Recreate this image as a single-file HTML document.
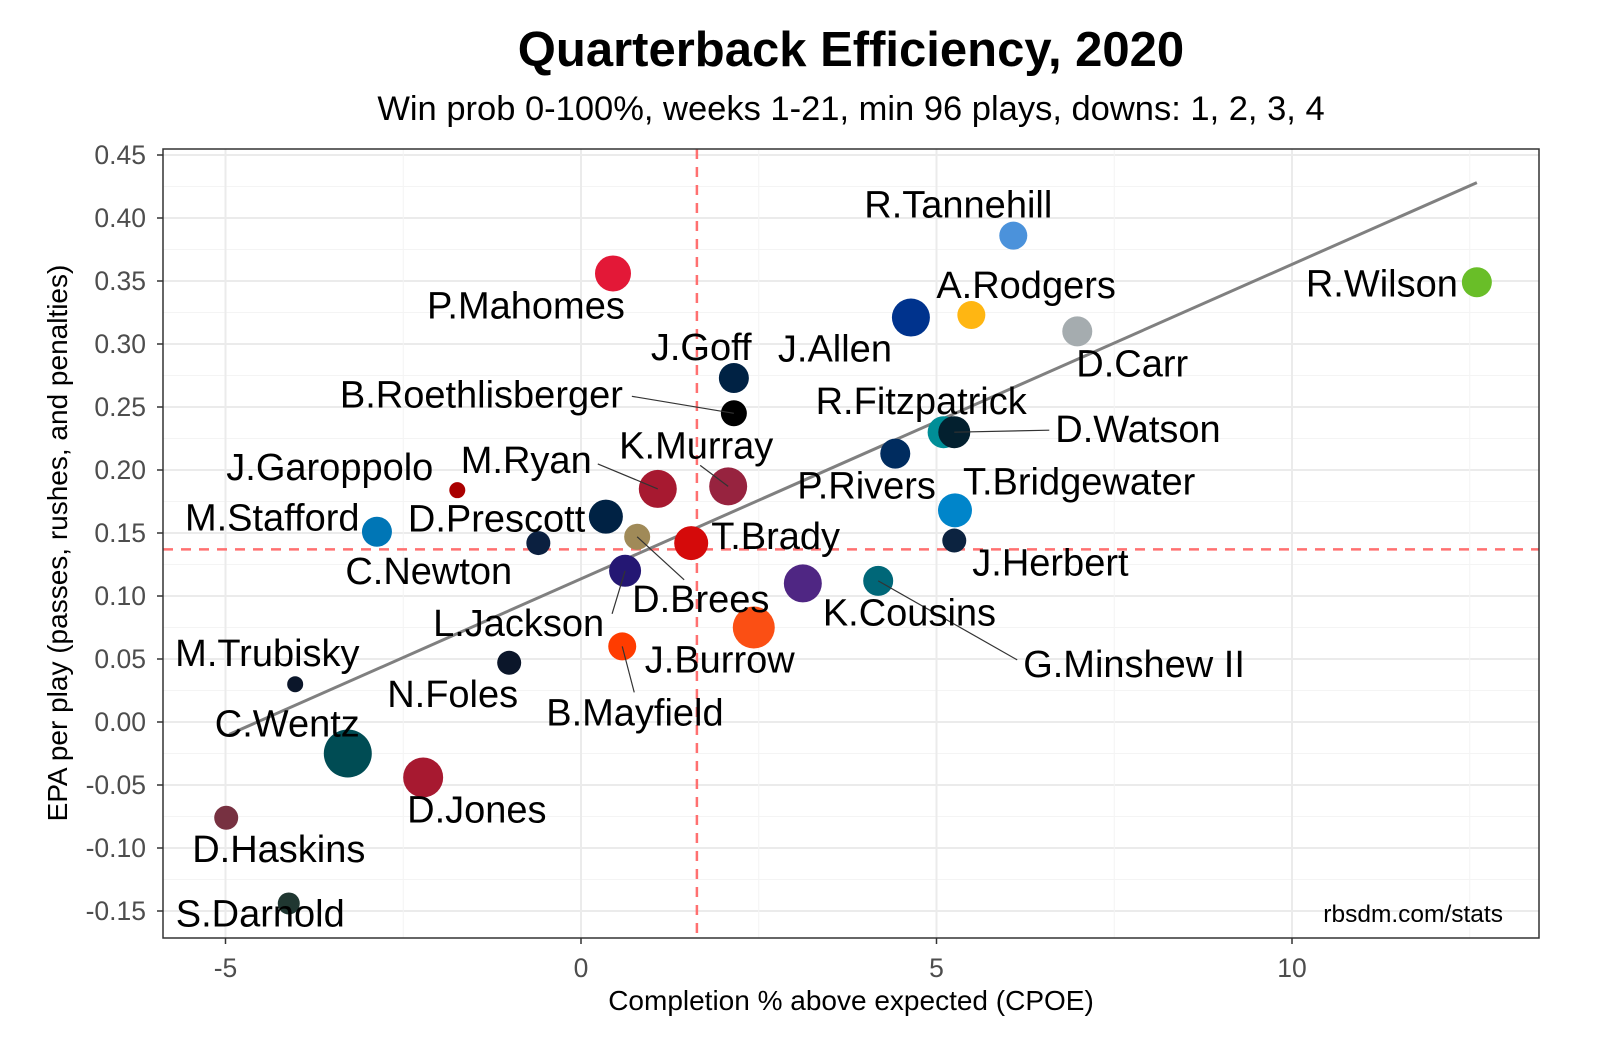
<!DOCTYPE html>
<html><head><meta charset="utf-8">
<style>
body{margin:0;background:#fff;}
svg{display:block;font-family:"Liberation Sans",sans-serif;}
</style></head>
<body>
<svg id="chart" width="1600" height="1060" viewBox="0 0 1600 1060">
<text x="851" y="66" text-anchor="middle" font-size="49" font-weight="bold" fill="#000">Quarterback Efficiency, 2020</text>
<text x="851" y="120" text-anchor="middle" font-size="34.5" fill="#000">Win prob 0-100%, weeks 1-21, min 96 plays, downs: 1, 2, 3, 4</text>
<g id="grid"></g>
<g id="marks"></g>
<rect x="163" y="149" width="1376" height="789" fill="none" stroke="#333" stroke-width="1.5"/>
<g id="axes"></g>
<text x="1503" y="922" text-anchor="end" font-size="24.5" fill="#000">rbsdm.com/stats</text>
<text x="851" y="1010" text-anchor="middle" font-size="28" fill="#000">Completion % above expected (CPOE)</text>
<text transform="translate(67,543) rotate(-90)" text-anchor="middle" font-size="28" fill="#000">EPA per play (passes, rushes, and penalties)</text>
</svg>
<script>
const names=["R.Tannehill","R.Wilson","A.Rodgers","J.Allen","D.Carr","P.Mahomes","J.Goff","B.Roethlisberger","R.Fitzpatrick","D.Watson","P.Rivers","K.Murray","M.Ryan","J.Garoppolo","T.Bridgewater","D.Prescott","M.Stafford","C.Newton","D.Brees","T.Brady","J.Herbert","L.Jackson","K.Cousins","G.Minshew II","J.Burrow","B.Mayfield","N.Foles","M.Trubisky","C.Wentz","D.Jones","D.Haskins","S.Darnold"];
const cpoe=[6.08,12.6,5.49,4.64,6.98,0.45,2.15,2.15,5.10,5.25,4.42,2.07,1.08,-1.74,5.26,0.35,-2.87,-0.60,0.79,1.55,5.25,0.62,3.12,4.18,2.43,0.58,-1.01,-4.02,-3.28,-2.22,-4.99,-4.11];
const epa=[0.386,0.349,0.323,0.321,0.310,0.356,0.273,0.245,0.230,0.230,0.213,0.187,0.185,0.184,0.168,0.163,0.151,0.142,0.147,0.142,0.144,0.120,0.110,0.112,0.075,0.060,0.047,0.030,-0.025,-0.044,-0.076,-0.144];
const plays=[14,15,14,19,15,18,15,13,16,16,15,19,19,8,17,17,15,12,13,17,12,16,19,15,21,14,12,8,24,20,12,11];
const colors=["#4b92db","#69be28","#ffb612","#00338d","#a5acaf","#e31837","#002244","#000000","#008e97","#03202f","#002c5f","#97233f","#a71930","#aa0000","#0085ca","#002244","#0076b6","#0b2040","#a08a58","#d50a0a","#0c2340","#241773","#4f2683","#006778","#fb4f14","#ff3c00","#0b162a","#0b162a","#004c54","#a71930","#773141","#203731"];
const labelDx=[-149,-171,-35,-133,-1,-186,-83,-394,-128,101,-98,-109,-197,-231,8,-198,-192,-193,-5,20,18,-192,20,145,-109,-76,-122,-120,-133,-16,-34,-113];
const labelDy=[-18,14,-17,44,45,45,-18,-6,-18,10,45,-28,-16,-10,-16,15,-1,41,75,6,35,65,42,96,45,79,44,-18,-17,45,44,23];
const leaderIdx=[7,9,11,12,18,23,21,25];
const leaderDx=[-102,95,-28,-60,47,139,-13,12];
const leaderDy=[-17,-2,-21,-25,43,79,43,46];
const meanX=[1.63];const meanY=[0.137];
const fitX=[-4.95,12.6];const fitSlope=0.02496;const fitIntercept=0.1136;
const xTicks=[-5,0,5,10];const yTicks=[-0.15,-0.10,-0.05,0.00,0.05,0.10,0.15,0.20,0.25,0.30,0.35,0.40,0.45];

const L=163,R=1539,T=149,B=938;
const sx=v=>581+v*71.1;
const sy=v=>722-v*1260;
const NS="http://www.w3.org/2000/svg";
function mk(tag,attrs,parent){const e=document.createElementNS(NS,tag);for(const k in attrs)e.setAttribute(k,attrs[k]);parent.appendChild(e);return e;}
const grid=document.getElementById('grid'),marks=document.getElementById('marks'),axes=document.getElementById('axes');
mk('rect',{x:L,y:T,width:R-L,height:B-T,fill:'#fff'},grid);
for(let i=0;i<yTicks.length;i++){
  const y=sy(yTicks[i]);
  let g=mk('line',{x1:L,x2:R,y1:y,y2:y,stroke:'#ebebeb','stroke-width':2},grid);
  
  
  if(i<yTicks.length-1){const ym=sy((yTicks[i]+yTicks[i+1])/2);mk('line',{x1:L,x2:R,y1:ym,y2:ym,stroke:'#f4f4f4','stroke-width':1},grid);}
  const t=mk('text',{x:146,y:y+9,'text-anchor':'end','font-size':26.5,fill:'#4d4d4d'},axes);
  t.textContent=yTicks[i].toFixed(2);
  
  
  mk('line',{x1:L-6,x2:L,y1:y,y2:y,stroke:'#333','stroke-width':1.5},axes);
}
for(let v=-7.5;v<=12.5;v+=5){const x=sx(v);if(x>L&&x<R)mk('line',{x1:x,x2:x,y1:T,y2:B,stroke:'#f4f4f4','stroke-width':1},grid);}
for(const v of xTicks){
  const x=sx(v);
  let g=mk('line',{x1:x,x2:x,y1:T,y2:B,stroke:'#ebebeb','stroke-width':2},grid);
  
  
  mk('line',{x1:x,x2:x,y1:B,y2:B+6,stroke:'#333','stroke-width':1.5},axes);
  const t=mk('text',{x:x,y:B+39,'text-anchor':'middle','font-size':26.5,fill:'#4d4d4d'},axes);
  t.textContent=String(v);
  
  
}
let mv=mk('line',{x1:sx(meanX[0]),x2:sx(meanX[0]),y1:T,y2:B,stroke:'#ff7070','stroke-width':2.5,'stroke-dasharray':'10,8'},marks);


let mh=mk('line',{x1:L,x2:R,y1:sy(meanY[0]),y2:sy(meanY[0]),stroke:'#ff7070','stroke-width':2.5,'stroke-dasharray':'10,8'},marks);


let fl=mk('line',{x1:sx(fitX[0]),y1:sy(fitIntercept+fitSlope*fitX[0]),x2:sx(fitX[1]),y2:sy(fitIntercept+fitSlope*fitX[1]),stroke:'#808080','stroke-width':3},marks);


for(let i=0;i<names.length;i++){
  const c=mk('circle',{cx:sx(cpoe[i]),cy:sy(epa[i]),r:plays[i],fill:colors[i]},marks);
  
  
}
for(let k=0;k<leaderIdx.length;k++){
  const i=leaderIdx[k],x=sx(cpoe[i]),y=sy(epa[i]);
  const l=mk('line',{x1:x,y1:y,x2:x+leaderDx[k],y2:y+leaderDy[k],stroke:'#333','stroke-width':1.2},marks);
  
  
}
for(let i=0;i<names.length;i++){
  const t=mk('text',{x:sx(cpoe[i])+labelDx[i],y:sy(epa[i])+labelDy[i],'font-size':38,fill:'#000'},marks);
  t.textContent=names[i];
  
  
}
</script>
</body></html>
